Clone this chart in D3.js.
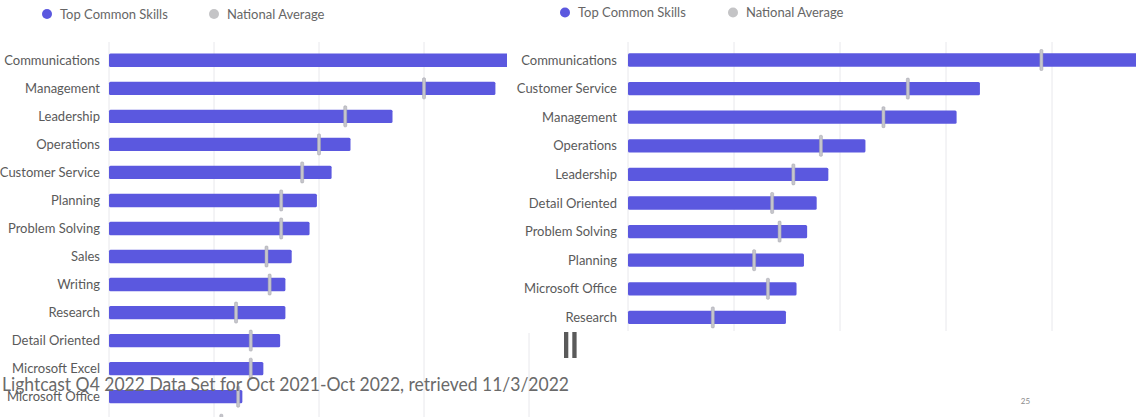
<!DOCTYPE html>
<html>
<head>
<meta charset="utf-8">
<script src="https://cdn.jsdelivr.net/npm/d3@7"></script>
<style>
  html, body { margin: 0; padding: 0; background: #fff; }
  svg { display: block; }
</style>
</head>
<body>
<svg id="chart" width="1136" height="417"></svg>
<script>
// Left panel: top common skills vs. national average
const leftSkills = ["Communications", "Management", "Leadership", "Operations", "Customer Service",
  "Planning", "Problem Solving", "Sales", "Writing", "Research", "Detail Oriented",
  "Microsoft Excel", "Microsoft Office", "Computer Literacy"];
const leftValues = [39.5, 36.8, 27.0, 23.0, 21.2, 19.8, 19.1, 17.4, 16.8, 16.8, 16.3, 14.7, 12.7, 11.5];
const leftAverages = [41.0, 30.0, 22.5, 20.0, 18.4, 16.4, 16.4, 15.0, 15.3, 12.1, 13.5, 13.5, 12.3, 10.7];

// Right panel
const rightSkills = ["Communications", "Customer Service", "Management", "Operations", "Leadership",
  "Detail Oriented", "Problem Solving", "Planning", "Microsoft Office", "Research"];
const rightValues = [52.0, 33.2, 31.0, 22.4, 18.9, 17.8, 16.9, 16.6, 15.9, 14.9];
const rightAverages = [39.0, 26.4, 24.1, 18.2, 15.6, 13.6, 14.3, 11.9, 13.2, 8.0];

const gridTicks = [0, 10, 20, 30, 40];
const legendLabels = ["Top Common Skills", "National Average"];
const footerText = "Lightcast Q4 2022 Data Set for Oct 2021-Oct 2022, retrieved 11/3/2022";
const pageNumber = "25";

const BAR = "#5b58df";
const AVG_FILL = "#c6c6cc";
const AVG_STROKE = "#a2a2aa";
const GRID = "#e8e8ec";
const LABEL = "#5a5a5a";
const FONT = "Lato, 'Open Sans', sans-serif";

const svg = d3.select("#chart");
svg.append("rect").attr("width", 1136).attr("height", 417).attr("fill", "#fff");

function drawPanel(g, cfg) {
  const x = d3.scaleLinear().domain([0, 40]).range(cfg.xRange);
  const y = d3.scaleBand().domain(cfg.skills).range(cfg.yRange)
    .paddingInner(cfg.padInner).paddingOuter(cfg.padOuter);

  // legend
  const lg = g.append("g").attr("transform", `translate(${cfg.legendX},${cfg.legendY})`);
  const legendItems = [
    { label: legendLabels[0], color: BAR, dx: 0 },
    { label: legendLabels[1], color: "#c4c4c6", dx: cfg.legendGap }
  ];
  legendItems.forEach(item => {
    lg.append("circle").attr("cx", item.dx).attr("cy", 0).attr("r", 5).attr("fill", item.color);
    lg.append("text").attr("x", item.dx + 13).attr("y", 0).attr("dy", "0.35em")
      .attr("font-family", FONT).attr("font-size", 13).attr("fill", "#666")
      .text(item.label);
  });

  // vertical gridlines
  g.append("g").selectAll("line").data(gridTicks).join("line")
    .attr("x1", d => x(d)).attr("x2", d => x(d))
    .attr("y1", cfg.gridTop).attr("y2", cfg.gridBottom)
    .attr("stroke", GRID).attr("stroke-width", 1);

  // category labels
  g.append("g").selectAll("text").data(cfg.skills).join("text")
    .attr("x", cfg.xRange[0] - cfg.labelGap)
    .attr("y", d => y(d) + y.bandwidth() / 2)
    .attr("dy", "0.35em")
    .attr("text-anchor", "end")
    .attr("font-family", FONT).attr("font-size", 13).attr("fill", LABEL)
    .text(d => d);

  // bars
  g.append("g").selectAll("rect").data(cfg.skills).join("rect")
    .attr("x", x(0))
    .attr("y", d => y(d))
    .attr("width", (d, i) => x(cfg.values[i]) - x(0))
    .attr("height", y.bandwidth())
    .attr("rx", 1.5)
    .attr("fill", BAR);

  // national average markers
  g.append("g").selectAll("rect").data(cfg.skills).join("rect")
    .attr("x", (d, i) => x(cfg.averages[i]) - 1.5)
    .attr("y", d => y(d) + y.bandwidth() / 2 - 10.5)
    .attr("width", 3)
    .attr("height", 21)
    .attr("rx", 1)
    .attr("fill", AVG_FILL)
    .attr("stroke", AVG_STROKE)
    .attr("stroke-width", 0.5);
}

// left panel
drawPanel(svg.append("g"), {
  skills: leftSkills, values: leftValues, averages: leftAverages,
  xRange: [109, 529], yRange: [42, 443], padInner: 0.522, padOuter: 0.414,
  gridTop: 42, gridBottom: 443, labelGap: 9,
  legendX: 47, legendY: 14, legendGap: 167
});

// right panel sits on its own white card over the left one
const right = svg.append("g");
right.append("rect").attr("x", 507).attr("y", 0).attr("width", 629).attr("height", 333).attr("fill", "#fff");
drawPanel(right, {
  skills: rightSkills, values: rightValues, averages: rightAverages,
  xRange: [628, 1052], yRange: [42, 335.4], padInner: 0.535, padOuter: 0.397,
  gridTop: 42, gridBottom: 331, labelGap: 11,
  legendX: 565, legendY: 12.5, legendGap: 168
});

// pause marks
svg.append("g").selectAll("rect").data([564, 572.3]).join("rect")
  .attr("x", d => d).attr("y", 332).attr("width", 4.3).attr("height", 26)
  .attr("fill", "#5a5a5a");

// source footnote
svg.append("text")
  .attr("x", 2).attr("y", 390.5)
  .attr("font-family", FONT).attr("font-size", 19.5).attr("fill", "#6a6a6a")
  .attr("textLength", 567).attr("lengthAdjust", "spacingAndGlyphs")
  .text(footerText);

// page number
svg.append("text")
  .attr("x", 1025.5).attr("y", 404)
  .attr("text-anchor", "middle")
  .attr("font-family", FONT).attr("font-size", 8).attr("fill", "#8a8a8a")
  .text(pageNumber);
</script>
</body>
</html>
